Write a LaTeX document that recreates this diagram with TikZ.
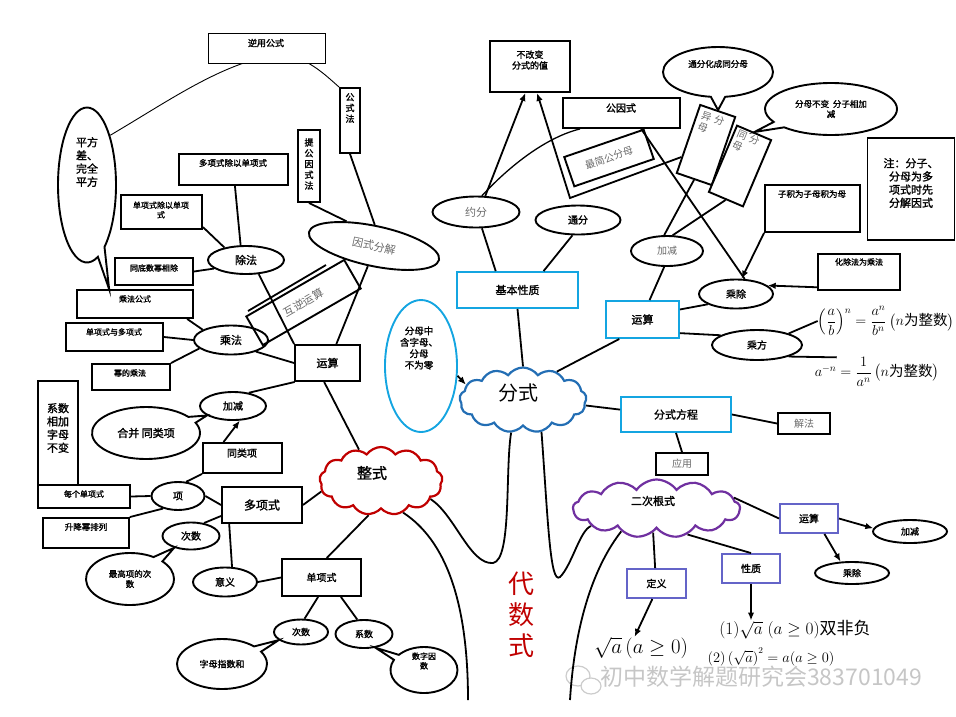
\documentclass[tikz,border=0pt]{standalone}
\usepackage{amsmath}
\usepackage{fontspec}
\setmainfont{Noto Sans CJK SC}[AutoFakeBold=1.6]
\usetikzlibrary{shapes.geometric,shapes.symbols,shapes.callouts,arrows.meta}
\definecolor{lblue}{RGB}{20,165,225}
\definecolor{cblue}{RGB}{35,110,180}
\definecolor{dred}{RGB}{192,0,0}
\definecolor{cpurp}{RGB}{112,48,160}
\definecolor{bpurp}{RGB}{100,100,200}
\definecolor{gtxt}{RGB}{105,105,105}
\newcommand\myfs[1]{\fontsize{#1}{\dimexpr#1pt*6/5\relax}\selectfont}
\tikzset{
  sz/.style 2 args={minimum width=#1pt,minimum height=#2pt},
  ln/.style={line width=1.8pt},
  arr/.style={line width=1.8pt,-{Latex[length=8pt,width=6.5pt]}},
  bx/.style={draw,line width=1.9pt,rectangle,inner sep=0pt},
  ov/.style={draw,line width=1.9pt,ellipse,inner sep=0pt},
  co/.style={draw,line width=1.9pt,ellipse callout,inner sep=0pt},
  cl/.style={draw,cloud,cloud puffs=13,cloud puff arc=110,cloud ignores aspect,line width=2.2pt,inner sep=0pt},
  tx/.style={inner sep=0pt,align=center,font=\bfseries\myfs{#1}},
  tx/.default=9,
  gt/.style={inner sep=0pt,align=center,text=gtxt,font=\myfs{#1}},
  gt/.default=10,
}
\begin{document}
\begin{tikzpicture}[x=1pt,y=-1pt]
\useasboundingbox (0,0) rectangle (956,716);

% ================= left part =================
\node[bx,sz={116}{28}] (cfgs) at (135,304) {};
\node[tx=8] (cfgsT) at (135,299) {乘法公式};
\node[co,sz={58}{155},callout absolute pointer={(cfgs.150)}] (pfc) at (87,185) {};
\node[tx=11] (pfcT) at (87,162) {平方\\差、\\完全\\平方};

\node[bx,sz={22}{72}] (tgys) at (309,166) {};
\node[tx=9] (tgysT) at (309,164) {提\\公\\因\\式\\法};
\node[bx,sz={20}{65}] (gsf) at (350,120.5) {};
\node[tx=9] (gsfT) at (350,108) {公\\式\\法};

\coordinate (nyc) at (268,56);
\draw[line width=0.9pt] (pfc.65) .. controls (170,100) and (215,68) .. (nyc) .. controls (300,50) and (322,72) .. (gsf.north west);
\node[bx,line width=0.9pt,fill=white,sz={117}{30}] (nygs) at (266.5,48) {};
\node[tx=9] (nygsT) at (266,43) {逆用公式};

\node[bx,sz={109}{31}] (dcd) at (233.5,169.5) {};
\node[tx=8.5] (dcdT) at (233,163) {多项式除以单项式};
\node[bx,sz={81}{34}] (dcd2) at (161.5,212) {};
\node[tx=8] (dcd2T) at (161,210) {单项式除以单项\\式};
\node[ov,sz={76}{28},tx=11] (cf) at (246,260) {除法};
\node[bx,sz={78}{27}] (tdscc) at (154,271.5) {};
\node[tx=8] (tdsccT) at (154,268) {同底数幂相除};
\node[bx,sz={97}{28}] (dyd) at (114.5,337) {};
\node[tx=8] (dydT) at (114,332) {单项式与多项式};
\node[bx,sz={78}{26}] (mdcf) at (131,377) {};
\node[tx=8] (mdcfT) at (130,373) {幂的乘法};
\node[ov,sz={74}{29},tx=11] (cf2) at (231,340) {乘法};
\node[bx,sz={65}{36},tx=11] (ys) at (327.5,363) {运算};
\node[bx,sz={113}{33},rotate=30,gt=11] (hnys) at (303.5,302.5) {互逆运算};
\node[ov,sz={133}{40},rotate=-12,gt=11] (ysfj) at (374,246) {因式分解};

\node[ov,sz={66}{28},tx=10] (jj) at (233,406) {加减};
\node[co,sz={108}{52},tx=11,callout absolute pointer={(jj.200)}] (hbtlx) at (146,433) {合并 同类项};
\node[bx,sz={79}{30}] (tlx) at (242.5,458) {};
\node[tx=10] (tlxT) at (242,453) {同类项};
\node[bx,sz={40}{104}] (xs) at (58,433) {};
\node[tx=11] (xsT) at (58,428) {系数\\相加\\字母\\不变};
\node[bx,sz={92}{23}] (mgdx) at (84,496.5) {};
\node[tx=8] (mgdxT) at (84,494) {每个单项式};
\node[bx,sz={86}{30}] (sjm) at (86,533) {};
\node[tx=8.5] (sjmT) at (86,527) {升降幂排列};
\node[ov,sz={53}{28},tx=10] (xiang) at (178,496) {项};
\node[bx,sz={80}{36},tx=12] (dxs) at (262,505) {多项式};
\node[ov,sz={57}{27},tx=10] (cs) at (191,536) {次数};
\node[co,sz={88}{52},tx=8.5,callout absolute pointer={(cs.215)}] (zgx) at (130,579) {最高项的次\\数};
\node[ov,sz={64}{29},tx=10] (yiyi) at (225,582) {意义};
\node[bx,sz={79}{37},tx=10] (dxs1) at (321.5,577.5) {单项式};
\node[ov,sz={54}{25},tx=9] (cs2) at (301,632) {次数};
\node[co,sz={90}{50},tx=9,callout absolute pointer={(cs2.200)}] (zmzs) at (222,664) {字母指数和};
\node[ov,sz={57}{28},tx=9] (xs2) at (364,634) {系数};
\node[co,sz={67}{46},callout absolute pointer={(xs2.310)}] (szys) at (424,670) {};
\node[tx=8] (szysT) at (424,661) {数字因\\数};

% ================= clouds =================
\node[cl,draw=dred,sz={123}{68}] (zs) at (381,481) {};
\node[tx=15] (zsT) at (372,473) {整式};
\node[cl,draw=cblue,sz={127}{65}] (fs) at (523,400) {};
\node[inner sep=0pt,font=\myfs{20}] (fsT) at (518,393) {分式};
\node[cl,draw=cpurp,sz={167}{58}] (ecgs) at (656.5,508.5) {};
\node[tx=11] (ecgsT) at (653,501) {二次根式};

% ================= middle / top right =================
\node[ov,draw=lblue,sz={72}{132}] (fmz) at (421,366) {};
\node[tx=9.5] (fmzT) at (419,348) {分母中\\含字母、\\分母\\不为零};
\node[bx,draw=lblue,sz={121}{36},tx=11] (jbxz) at (517.5,290) {基本性质};
\node[ov,sz={87}{31},gt=11] (yf) at (476,212) {约分};
\node[ov,sz={85}{29},tx=10] (tf) at (578,220) {通分};
\node[bx,sz={80}{51}] (bgb) at (530,66.5) {};
\node[tx=9] (bgbT) at (530,60) {不改变\\分式的值};
\node[bx,sz={117}{30}] (ggs) at (621.5,113) {};
\node[tx=10] (ggsT) at (621,108) {公因式};
\node[bx,sz={84}{31},rotate=19,gt=10] (zjgfm) at (609,158) {最简公分母};
\node[bx,sz={37}{72},rotate=-19,fill=white] (yfm) at (706,145) {};
\node[gt=10,rotate=-19,align=left] (yfmT) at (711,124.5) {异\,\,分\\母};
\node[bx,sz={37}{72},rotate=-23,fill=white] (tfm) at (740,166) {};
\node[gt=10,rotate=-23,align=left] (tfmT) at (746,143) {同\,\,分\\母};
\node[co,sz={110}{50},callout absolute pointer={(yfm.north)}] (tfhc) at (718,72) {};
\node[tx=8.5] (tfhcT) at (718,64) {通分化成同分母};
\node[co,sz={132}{52},tx=8.5,callout absolute pointer={(tfm.north)}] (fmbb) at (831,109) {分母不变\ \ 分子相加\\减};
\node[bx,sz={95}{47}] (zjwz) at (812.5,208.5) {};
\node[tx=8.5] (zjwzT) at (812,194) {子积为子母积为母};
\node[bx,sz={87}{102}] (zhu) at (911,189) {};
\node[tx=11] (zhuT) at (911,183) {注：分子、\\分母为多\\项式时先\\分解因式};
\node[ov,sz={72}{30},gt=10] (jj2) at (667,251) {加减};
\node[ov,sz={74}{29},tx=10] (cc) at (736,294) {乘除};
\node[bx,sz={82}{36}] (hcf) at (859,272) {};
\node[tx=8] (hcfT) at (859,262) {化除法为乘法};
\node[bx,draw=lblue,sz={73}{37},tx=11] (ys2) at (642.5,319.5) {运算};
\node[ov,sz={90}{30},tx=10] (cfang) at (757,345) {乘方};
\node[inner sep=0pt,font=\myfs{14.5}] (f1) at (886,321) {$\left(\dfrac{a}{b}\right)^{n}=\dfrac{a^{n}}{b^{n}}\left(n\mbox{为整数}\right)$};
\node[inner sep=0pt,font=\myfs{14.5}] (f2) at (877,372) {$a^{-n}=\dfrac{1}{a^{n}}\left(n\mbox{为整数}\right)$};
\node[bx,draw=lblue,sz={110}{35},tx=11] (fsfc) at (676,414.5) {分式方程};
\node[bx,sz={52}{21},gt=10] (jf) at (804,423.5) {解法};
\node[bx,sz={52}{22},gt=10] (yy) at (682,464) {应用};

% ================= bottom right =================
\node[bx,draw=bpurp,sz={58}{29},tx=10] (ys3) at (809,518.5) {运算};
\node[ov,sz={74}{23},tx=9] (jj3) at (910,531.5) {加减};
\node[ov,sz={74}{22},tx=9] (cc2) at (852,573) {乘除};
\node[bx,draw=bpurp,sz={59}{29},tx=10] (dy) at (656.5,583.5) {定义};
\node[bx,draw=bpurp,sz={58}{29},tx=10] (xz) at (751,568.5) {性质};
\node[inner sep=0pt,font=\myfs{22}] (f4) at (641,648) {$\sqrt{a}\left(a\geq 0\right)$};
\node[inner sep=0pt,font=\myfs{17}] (f3) at (795,630) {$(1)\sqrt{a}\;(a\geq 0)$双非负};
\node[inner sep=0pt,font=\myfs{13.5}] (f5) at (771,657) {$(2)\left(\sqrt{a}\right)^{2}=a(a\geq 0)$};
\node[inner sep=0pt,text=dred,align=center,font=\myfs{26}] (dss) at (521,615) {代\\数\\式};

% watermark
\draw[gray!40,line width=1.2pt,fill=white] (578,676) ellipse (12 and 10);
\draw[gray!40,line width=1.2pt,fill=white] (591,686) ellipse (10 and 8);
\node[inner sep=0pt,anchor=west,text=gray!45,font=\myfs{23}] (wm) at (600,677) {初中数学解题研究会383701049};

% ================= connectors =================
\draw[ln] (dcd.275) -- (cf.110);
\draw[ln] (dcd2.340) -- (cf.150);
\draw[ln] (tdscc.east) -- (cf.195);
\draw[ln] (cf.312) -- (ys.north west);
\draw[ln] (cfgs.344) -- (cf2.160);
\draw[ln] (dyd.east) -- (cf2.west);
\draw[ln] (mdcf.north east) -- (cf2.195);
\draw[ln] (cf2.335) -- (ys.west);
\draw[ln] (ys.260) -- (zs.125);
\draw[ln] (jj.40) -- (ys.210);
\draw[arr] (tlx.140) -- (jj.295);
\draw[ln] (xiang.60) -- (tlx.south west);
\draw[ln] (mgdx.east) -- (xiang.west);
\draw[ln] (sjm.20) -- (xiang.220);
\draw[ln] (xiang.east) -- (dxs.west);
\draw[ln] (cs.45) -- (dxs.195);
\draw[ln] (dxs.210) -- (yiyi.65);
\draw[ln] (yiyi.east) -- (dxs1.west);
\draw[ln] (zs.190) -- (dxs.east);
\draw[ln] (zs.250) -- (dxs1.75);
\draw[ln] (dxs1.260) -- (cs2.75);
\draw[ln] (dxs1.315) -- (xs2.115);
\draw[ln] (tgys.south) -- (ysfj.150);
\draw[ln] (gsf.south) -- (ysfj.100);
\draw[ln] (ysfj.265) -- (ys.65);
\coordinate (hx1) at (248,311);
\coordinate (hx2) at (326,265);
\draw[ln] (hx1) -- (hx2);

\coordinate (pp1) at (570,198);
\draw[arr] (yf.60) -- (bgb.260);
\draw[arr] (yfm.225) -- (pp1) -- (bgb.285);
\draw[line width=1.3pt] (yf.70) .. controls (520,155) and (555,135) .. (ggs.201);
\draw[ln] (yf.290) -- (jbxz.139);
\draw[ln] (tf.250) -- (jbxz.36);
\draw[ln] (jbxz.south) -- (fs.north);
\draw[arr] (fmz.345) -- (fs.165);
\draw[ln] (fs.40) -- (ys2.220);
\draw[ln] (fs.355) -- (fsfc.175);
\draw[ln] (fsfc.east) -- (jf.west);
\draw[ln] (fsfc.south) -- (yy.north);
\draw[ln] (jj2.100) -- (yfm.south);
\draw[ln] (jj2.70) -- (tfm.south);
\draw[ln] (jj2.260) -- (ys2.70);
\draw[ln] (ggs.321) -- (cc.60);
\draw[arr] (zjwz.south west) -- (cc.70);
\draw[arr] (hcf.200) -- (cc.15);
\draw[ln] (ys2.15) -- (cc.200);
\draw[ln] (ys2.340) -- (cfang.165);
\draw[ln] (cfang.20) -- (f1.west);
\draw[ln] (cfang.340) -- (f2.160);

\draw[ln] (ecgs.8) -- (ys3.west);
\draw[arr] (ys3.east) -- (jj3.175);
\draw[arr] (ys3.315) -- (cc2.135);
\draw[ln] (ecgs.262) -- (dy.95);
\draw[ln] (ecgs.320) -- (xz.north);
\draw[arr] (xz.south) -- (xz.south |- f3.north);
\draw[arr] (dy.255) -- (f4.120);

% trunk curves
\coordinate (v1) at (493,563);
\draw[ln] (zs.340) .. controls (455,515) and (470,565) .. (v1) .. controls (512,560) and (505,470) .. (fs.250);
\coordinate (e1) at (468,700);
\draw[ln] (zs.305) .. controls (445,540) and (468,600) .. (e1);
\coordinate (v2) at (560,577);
\draw[ln] (fs.300) .. controls (548,520) and (550,585) .. (v2) .. controls (572,565) and (580,530) .. (ecgs.195);
\coordinate (e2) at (570,700);
\draw[ln] (ecgs.213) .. controls (595,565) and (575,620) .. (e2);
\end{tikzpicture}
\end{document}
